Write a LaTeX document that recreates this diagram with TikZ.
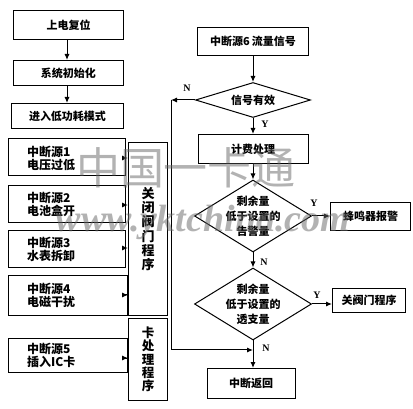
\documentclass[tikz,border=0pt]{standalone}
\usepackage{fontspec}
\setmainfont{Noto Sans CJK SC}
\newfontfamily\ynfont{Liberation Serif}
\newfontfamily\wmfont{Liberation Serif}
\usetikzlibrary{arrows.meta,shapes.geometric}
\begin{document}
\begin{tikzpicture}[x=1pt,y=-1pt,
  box/.style={draw,line width=1pt,inner sep=0pt,anchor=north west,font=\bfseries\fontsize{11}{13}\selectfont},
  ibox/.style={draw,line width=1pt,inner sep=0pt,anchor=north west},
  itext/.style={anchor=west,align=left,inner sep=0pt,font=\bfseries\fontsize{12}{13}\selectfont},
  dia/.style={draw,diamond,line width=1pt,inner sep=0pt},
  dtext/.style={align=center,inner sep=0pt,font=\bfseries\fontsize{11}{15}\selectfont},
  arr/.style={-{Latex[length=6pt,width=5pt]},line width=1pt},
  ln/.style={line width=1pt},
  yn/.style={font=\ynfont\bfseries\fontsize{10}{10}\selectfont,inner sep=0pt}]
\useasboundingbox (0,0) rectangle (413,409);
% left column
\node[box,minimum width=110pt,minimum height=29pt] (b1) at (13,10) {上电复位};
\node[box,minimum width=110pt,minimum height=25pt] (b2) at (13,60) {系统初始化};
\node[box,minimum width=112pt,minimum height=25pt] (b3) at (11,103) {进入低功耗模式};
\draw[arr] (b1.south -| 67,0) -- (b2.north -| 67,0);
\draw[arr] (b2.south -| 67,0) -- (b3.north -| 67,0);
% interrupt sources
\node[ibox,minimum width=117pt,minimum height=37pt] (i1) at (8,138) {};
\node[ibox,minimum width=117pt,minimum height=37pt] (i2) at (8,185) {};
\node[ibox,minimum width=117pt,minimum height=37pt] (i3) at (8,230) {};
\node[ibox,minimum width=119pt,minimum height=40pt] (i4) at (8,275) {};
\node[ibox,minimum width=119pt,minimum height=34pt] (i5) at (8,338) {};
\node[itext] (t1) at (27,158) {中断源1\\电压过低};
\node[itext] (t2) at (27,204) {中断源2\\电池盒开};
\node[itext] (t3) at (27,249) {中断源3\\水表拆卸};
\node[itext] (t4) at (27,295) {中断源4\\电磁干扰};
\node[itext] (t5) at (27,355) {中断源5\\插入IC卡};
\node[ibox,minimum width=39pt,minimum height=173pt] (valve) at (128,142) {};
\node[align=center,inner sep=0pt,font=\bfseries\fontsize{13}{14.2}\selectfont] (vt) at (valve.center) {关\\闭\\阀\\门\\程\\序};
\node[ibox,minimum width=39pt,minimum height=82pt] (card) at (128,318) {};
\node[align=center,inner sep=0pt,font=\bfseries\fontsize{12.5}{13.3}\selectfont] (ct) at (card.center) {卡\\处\\理\\程\\序};
\draw[arr] (125,158) -- (valve.west |- 0,158);
\draw[arr] (125,205) -- (valve.west |- 0,205);
\draw[arr] (125,248) -- (valve.west |- 0,248);
\draw[arr] (127,295) -- (valve.west |- 0,295);
\draw[arr] (127,358) -- (card.west |- 0,358);
% right column
\node[box,minimum width=111pt,minimum height=28pt,anchor=north] (s6) at (253,27) {中断源6\,流量信号};
\node[dia,minimum width=115pt,minimum height=35pt] (d1) at (253,100) {};
\node[dtext] (d1t) at (d1.center) {信号有效};
\node[box,minimum width=110pt,minimum height=29pt,anchor=north] (fee) at (253,134) {计费处理};
\node[dia,minimum width=117pt,minimum height=72pt] (d2) at (253,216) {};
\node[dtext] (d2t) at (d2.center) {剩余量\\低于设置的\\告警量};
\node[box,minimum width=80pt,minimum height=28pt] (buzz) at (330,202) {蜂鸣器报警};
\node[dia,minimum width=117pt,minimum height=72pt] (d3) at (253,304) {};
\node[dtext] (d3t) at (d3.center) {剩余量\\低于设置的\\透支量};
\node[box,minimum width=73pt,minimum height=24pt] (close) at (332,288) {关阀门程序};
\node[box,minimum width=88pt,minimum height=30pt,anchor=north] (ret) at (251,368) {中断返回};
\coordinate (L1) at (171,100);
\coordinate (L2) at (171,350);
\coordinate (J) at (253,350);
\draw[arr] (s6.south -| 253,0) -- (d1.north);
\draw[arr] (d1.south) -- (fee.north -| 253,0);
\draw[arr] (fee.south -| 253,0) -- (d2.north);
\draw[arr] (d2.south) -- (d3.north);
\draw[arr] (d2.east) -- (buzz.west |- d2.east);
\draw[arr] (d3.east) -- (close.west |- d3.east);
\draw[arr] (d3.south) -- (ret.north -| 253,0);
\draw[arr] (d1.west) -- (L1);
\draw[ln] (L1) -- (L2);
\draw[arr] (L2) -- (J);
\node[yn] (n1) at (187,88) {N};
\node[yn] (y1) at (265,124) {Y};
\node[yn] (y2) at (314,203) {Y};
\node[yn] (n2) at (264,262) {N};
\node[yn] (y3) at (317,295) {Y};
\node[yn] (n3) at (266,348) {N};
% watermark
\node[opacity=0.5,text=gray!80!black,inner sep=0pt,font=\fontsize{44}{44}\selectfont] (wm1) at (186,168) {中国一卡通};
\node[opacity=0.5,text=gray!80!black,inner sep=0pt,font=\wmfont\bfseries\itshape\fontsize{38}{38}\selectfont] (wm2) at (203,222) {www.yktchina.com};
\end{tikzpicture}
\end{document}
